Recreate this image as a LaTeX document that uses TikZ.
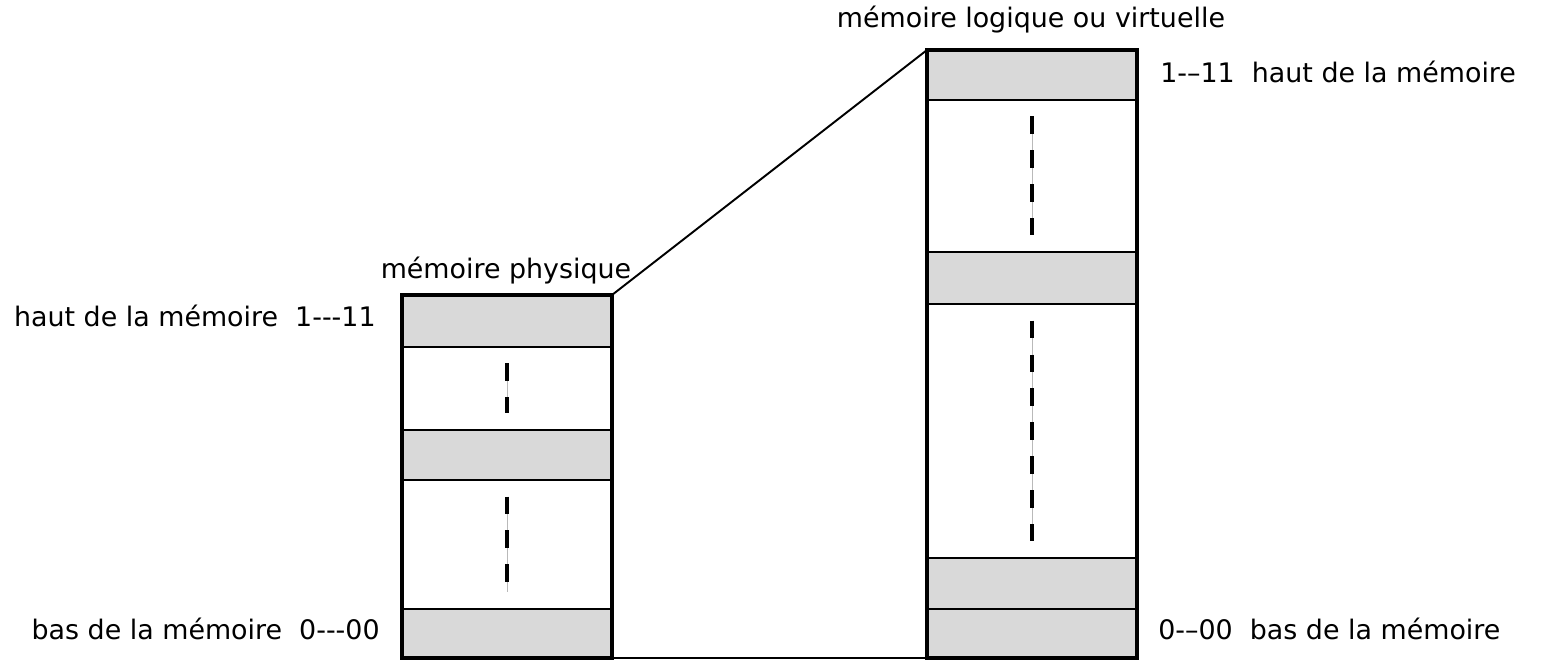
\documentclass[tikz,border=0pt]{standalone}
\usepackage{fontspec}
\newfontfamily\lblfont{DejaVu Sans}
\definecolor{bandgray}{HTML}{D9D9D9}
\begin{document}
\begin{tikzpicture}[x=0.02cm,y=0.02cm,
  band/.style={draw, line width=1.1pt, minimum width=4.2cm, inner sep=0pt, outer sep=0pt},
  full/.style={band, fill=bandgray},
  frame/.style={line width=2.3pt},
  guide/.style={line width=2pt, dash pattern=on 0.35cm off 0.33cm,
    preaction={draw, solid, gray!55, line width=0.5pt}},
  lbl/.style={font=\lblfont\fontsize{15.3}{18}\selectfont, inner sep=0pt}]
\useasboundingbox (0,0) rectangle (1541,661);

\node[full, minimum height=1.04cm] (lp1) at (507,340) {};
\node[band, minimum height=1.66cm] (lw1) at (507,272.5) {};
\node[full, minimum height=1.00cm] (lp2) at (507,206) {};
\node[band, minimum height=2.58cm] (lw2) at (507,116.5) {};
\node[full, minimum height=0.98cm] (lp3) at (507,27.5) {};

\node[full, minimum height=1.00cm] (rp1) at (1032,586) {};
\node[band, minimum height=3.04cm] (rw1) at (1032,485) {};
\node[full, minimum height=1.04cm] (rp2) at (1032,383) {};
\node[band, minimum height=5.08cm] (rw2) at (1032,230) {};
\node[full, minimum height=1.02cm] (rp3) at (1032,77.5) {};
\node[full, minimum height=0.98cm] (rp4) at (1032,27.5) {};

\foreach \b in {lw1,lw2,rw1,rw2}
  \draw[guide] ([yshift=-0.33cm]\b.north) -- ([yshift=0.33cm]\b.south);

\draw[frame] (lp1.north west) rectangle (lp3.south east);
\draw[frame] (rp1.north west) rectangle (rp4.south east);

\draw[line width=1.1pt] (lp1.north east) -- (rp1.north west);
\draw[line width=1.1pt] (lp3.south east) -- (rp4.south west);

\node[lbl, anchor=base] (phys) at (506,382) {mémoire physique};
\node[lbl, anchor=base] (virt) at (1031,633) {mémoire logique ou virtuelle};
\node[lbl, anchor=base east] (hautg) at (376,334) {haut de la mémoire~~1---11};
\node[lbl, anchor=base east] (basg) at (380,21) {bas de la mémoire~~0---00};
\node[lbl, anchor=base west] (hautd) at (1160,578) {1-–11~~haut de la mémoire};
\node[lbl, anchor=base west] (basd) at (1158,21) {0-–00~~bas de la mémoire};
\end{tikzpicture}
\end{document}
